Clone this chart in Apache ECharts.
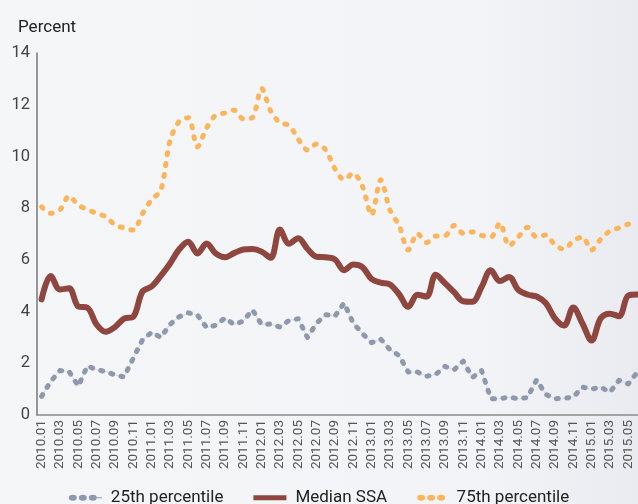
<!DOCTYPE html>
<html>
<head>
  <title>Percentiles chart</title>
  <style>
    body { margin: 0; padding: 0; background: #f4f5f7; }
    #chart { width: 638px; height: 504px; }
  </style>
</head>
<body>
  <div id="chart"></div>
  <script src="https://cdn.jsdelivr.net/npm/echarts@6.0.0/dist/echarts.min.js"></script>
  <script>
    // monthly categories 2010.01 - 2015.06
    var months = [];
    for (var y = 2010; y <= 2015; y++) {
      for (var m = 1; m <= 12; m++) {
        if (y === 2015 && m > 6) break;
        months.push(y + '.' + (m < 10 ? '0' + m : m));
      }
    }

    var yTicks = [0, 2, 4, 6, 8, 10, 12, 14];

    var p25 = [0.72, 1.3, 1.72, 1.68, 1.12, 1.9, 1.75, 1.68, 1.55, 1.47,
      2.2, 2.9, 3.2, 3.0, 3.5, 3.8, 3.95, 3.87, 3.38, 3.47,
      3.75, 3.5, 3.63, 4.07, 3.5, 3.52, 3.4, 3.66, 3.72, 3.0,
      3.55, 3.88, 3.82, 4.33, 3.55, 3.15, 2.8, 2.93, 2.53, 2.3,
      1.66, 1.66, 1.5, 1.57, 1.88, 1.75, 2.08, 1.45, 1.72, 0.63,
      0.63, 0.69, 0.63, 0.67, 1.36, 0.8, 0.63, 0.65, 0.69, 1.08,
      1.0, 1.08, 0.88, 1.34, 1.2, 1.66];

    var median = [4.47, 5.38, 4.85, 4.9, 4.2, 4.15, 3.5, 3.22, 3.4, 3.73,
      3.8, 4.77, 4.97, 5.38, 5.85, 6.4, 6.7, 6.25, 6.63, 6.25,
      6.1, 6.26, 6.4, 6.42, 6.32, 6.08, 7.17, 6.62, 6.84, 6.43,
      6.12, 6.1, 6.02, 5.6, 5.82, 5.72, 5.26, 5.12, 5.05, 4.67,
      4.18, 4.65, 4.58, 5.42, 5.1, 4.75, 4.4, 4.38, 4.95, 5.6,
      5.18, 5.34, 4.84, 4.66, 4.58, 4.33, 3.74, 3.46, 4.16, 3.54,
      2.88, 3.74, 3.92, 3.82, 4.62, 4.66];

    var p75 = [8.05, 7.8, 7.93, 8.47, 8.12, 7.95, 7.8, 7.67, 7.36, 7.23,
      7.15, 7.78, 8.33, 8.68, 10.6, 11.35, 11.5, 10.37, 11.1, 11.6,
      11.68, 11.79, 11.45, 11.5, 12.63, 11.75, 11.3, 11.2, 10.67, 10.25,
      10.48, 10.25, 9.52, 9.1, 9.35, 8.84, 7.73, 9.1, 7.93, 7.33,
      6.38, 7.02, 6.67, 6.92, 6.93, 7.33, 7.03, 7.08, 6.95, 6.88,
      7.43, 6.54, 6.88, 7.26, 6.88, 6.96, 6.58, 6.41, 6.74, 6.88,
      6.38, 6.8, 7.12, 7.24, 7.38, 7.45];

    var font = "Roboto, 'Liberation Sans', sans-serif";

    // legend icons: three dots with a short tail / thick bar / three dots
    var iconDotsTail = 'path://M0,3A4,3 0 1 1 8,3A4,3 0 1 1 0,3Z M10,3A4,3 0 1 1 18,3A4,3 0 1 1 10,3Z M20,3A4,3 0 1 1 28,3A4,3 0 1 1 20,3Z M28,2.4L33,2.4L33,3.6L28,3.6Z';
    var iconBar = 'path://M0,0.5L33,0.5L33,5.5L0,5.5Z';
    var iconDots = 'path://M0,3A4,3 0 1 1 8,3A4,3 0 1 1 0,3Z M10,3A4,3 0 1 1 18,3A4,3 0 1 1 10,3Z M20,3A4,3 0 1 1 28,3A4,3 0 1 1 20,3Z';

    var chart = echarts.init(document.getElementById('chart'));

    var option = {
      backgroundColor: {
        type: 'linear', x: 0, y: 0, x2: 1, y2: 0,
        colorStops: [
          { offset: 0, color: '#f5f6f8' },
          { offset: 0.75, color: '#f3f4f7' },
          { offset: 1, color: '#e9ebf0' }
        ]
      },
      animation: false,
      textStyle: { fontFamily: font },
      title: {
        text: 'Percent',
        left: 13,
        top: 9,
        textStyle: { fontFamily: font, fontSize: 17, fontWeight: 'normal', color: '#222' }
      },
      grid: {
        left: 37,
        right: -4,
        top: 53,
        bottom: 89,
        containLabel: false,
        outerBoundsMode: 'none'
      },
      legend: {
        top: 479,
        left: 'center',
        itemWidth: 33,
        itemHeight: 6,
        itemGap: 30,
        data: [
          { name: '25th percentile', icon: iconDotsTail },
          { name: 'Median SSA', icon: iconBar },
          { name: '75th percentile', icon: iconDots }
        ],
        textStyle: { fontFamily: font, fontSize: 17, color: '#222', padding: [0, 0, 0, 4] }
      },
      xAxis: {
        type: 'category',
        data: months,
        boundaryGap: true,
        axisLine: { lineStyle: { color: '#8a8a8a', width: 1.5 } },
        axisTick: { show: false },
        axisLabel: {
          // every category gets a label slot; odd months stay blank
          interval: 0,
          formatter: function (value, index) { return index % 2 === 0 ? value : ''; },
          hideOverlap: false,
          rotate: 90,
          margin: 5,
          fontSize: 13.5,
          color: '#555',
          fontFamily: font
        },
        splitLine: { show: false }
      },
      yAxis: {
        type: 'value',
        min: yTicks[0],
        max: yTicks[yTicks.length - 1],
        interval: 2,
        axisLine: { show: true, lineStyle: { color: '#777', width: 1.5 } },
        axisTick: { show: false },
        splitLine: { show: false },
        axisLabel: { fontSize: 16.5, color: '#444', margin: 7, fontFamily: font }
      },
      series: [
        {
          name: '25th thin',
          type: 'line',
          data: p25,
          symbol: 'none',
          silent: true,
          z: 1,
          lineStyle: { color: '#d6dbe3', width: 1 }
        },
        {
          name: '25th percentile',
          type: 'line',
          data: p25,
          symbol: 'none',
          color: '#8e99ad',
          z: 2,
          lineStyle: { color: '#8e99ad', width: 5, type: [2, 8.5], cap: 'round', join: 'round' }
        },
        {
          name: 'Median SSA',
          type: 'line',
          data: median,
          smooth: 0.35,
          symbol: 'none',
          color: '#8e463e',
          z: 3,
          lineStyle: { color: '#8e463e', width: 6, cap: 'round', join: 'round' }
        },
        {
          name: '75th percentile',
          type: 'line',
          data: p75,
          smooth: 0.3,
          symbol: 'none',
          color: '#fdb55b',
          z: 4,
          lineStyle: { color: '#fdb55b', width: 5, type: [2, 9], cap: 'round', join: 'round' }
        }
      ]
    };

    chart.setOption(option);
  </script>
</body>
</html>
